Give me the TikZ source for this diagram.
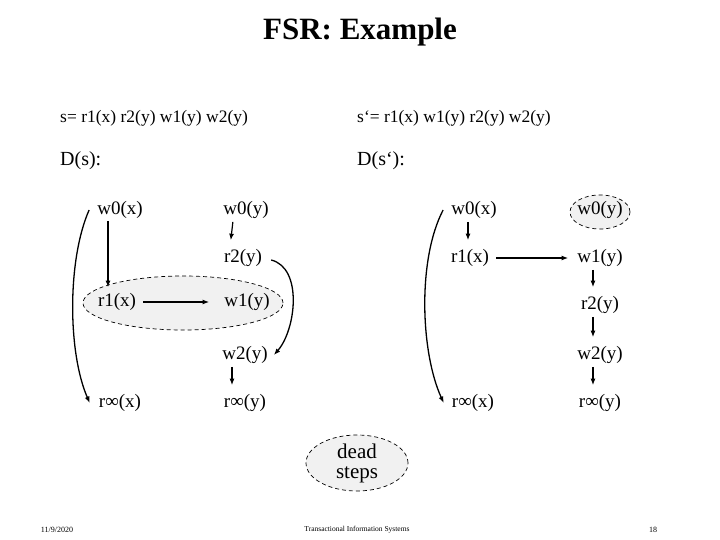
\documentclass[tikz,border=0pt]{standalone}
\usepackage{fontspec}
\setmainfont{Liberation Serif}
\usetikzlibrary{arrows.meta,shapes.geometric}

\begin{document}
\begin{tikzpicture}[x=1pt,y=-1pt,>={Latex[length=6.5pt,width=5pt]},
  ev/.style={font=\fontsize{19}{22}\selectfont,inner sep=2pt},
  grp/.style={ellipse,draw,dash pattern=on 4pt off 3pt,line width=.7pt,fill=gray!11},
  dep/.style={->,line width=1.2pt},
  bow/.style={->,line width=1.3pt}]
\useasboundingbox (0,0) rectangle (720,540);
\node[font=\fontsize{31}{34}\selectfont\bfseries] (title) at (360,32) {FSR: Example};
\node[anchor=west,inner sep=0pt,font=\fontsize{17.5}{20}\selectfont] (s) at (60,118) {s= r1(x) r2(y) w1(y) w2(y)};
\node[anchor=west,inner sep=0pt,font=\fontsize{17.5}{20}\selectfont] (s2) at (357,118) {s‘= r1(x) w1(y) r2(y) w2(y)};
\node[anchor=west,inner sep=0pt,font=\fontsize{20}{22}\selectfont] (Ds) at (60,161) {D(s):};
\node[anchor=west,inner sep=0pt,font=\fontsize{20}{22}\selectfont] (Ds2) at (357,161) {D(s‘):};
% D(s)
\node[grp,minimum width=200pt,minimum height=54pt] (dead) at (183,303) {};
\node[ev] (aw0x) at (120,210) {w0(x)};
\node[ev] (aw0y) at (246,210) {w0(y)};
\node[ev] (ar2y) at (243,258) {r2(y)};
\node[ev] (ar1x) at (117,302) {r1(x)};
\node[ev] (aw1y) at (247,302) {w1(y)};
\node[ev] (aw2y) at (245,355) {w2(y)};
\node[ev] (arix) at (120,403) {r∞(x)};
\node[ev] (ariy) at (245,403) {r∞(y)};
\draw[dep,shorten >=4pt] ([xshift=-12pt]aw0x.south) -- ([xshift=-9pt]ar1x.north);
\draw[dep,shorten <=5pt,shorten >=13pt] (ar1x) -- (aw1y);
\foreach \a/\b in {aw0y/ar2y,aw2y/ariy}
  \draw[dep,shorten <=1pt,shorten >=7pt] ([xshift=-13pt]\a.south) -- ([xshift=-13pt]\b.north);
\draw[bow] ([xshift=-6pt]aw0x.west) .. controls +(-22,50) and +(-22,-50) .. ([xshift=-7pt]arix.west);
\draw[bow] ([xshift=7pt,yshift=-2pt]ar2y.east) .. controls +(32,8) and +(22,-25) .. ([xshift=4pt]aw2y.east);
% D(s')
\node[grp,minimum width=60pt,minimum height=34pt] (dead2) at (600,212) {};
\node[ev] (bw0x) at (474,210) {w0(x)};
\node[ev] (bw0y) at (600,210) {w0(y)};
\node[ev] (br1x) at (470,258) {r1(x)};
\node[ev] (bw1y) at (600,258) {w1(y)};
\node[ev] (br2y) at (600,305) {r2(y)};
\node[ev] (bw2y) at (600,355) {w2(y)};
\node[ev] (brix) at (473,403) {r∞(x)};
\node[ev] (briy) at (600,403) {r∞(y)};
\draw[dep,shorten <=1pt,shorten >=7pt] ([xshift=-6pt]bw0x.south) -- ([xshift=-2pt]br1x.north);
\draw[dep,shorten <=5pt,shorten >=7pt] (br1x) -- (bw1y);
\foreach \a/\b in {bw1y/br2y,br2y/bw2y,bw2y/briy}
  \draw[dep,shorten <=1pt,shorten >=7pt] ([xshift=-7pt]\a.south) -- ([xshift=-7pt]\b.north);
\draw[bow] ([xshift=-6pt]bw0x.west) .. controls +(-26,50) and +(-23,-50) .. ([xshift=-6pt]brix.west);
% dead steps
\node[grp,minimum width=102pt,minimum height=56pt,align=center,inner sep=0pt,
  font=\fontsize{21}{20}\selectfont] (deadlbl) at (357,463) {dead\\steps};
% footer
\node[font=\fontsize{8}{9}\selectfont] (date) at (57,530) {11/9/2020};
\node[font=\fontsize{7.5}{9}\selectfont] (book) at (357,530) {Transactional Information Systems};
\node[font=\fontsize{8}{9}\selectfont] (page) at (653,530) {18};
\end{tikzpicture}
\end{document}
